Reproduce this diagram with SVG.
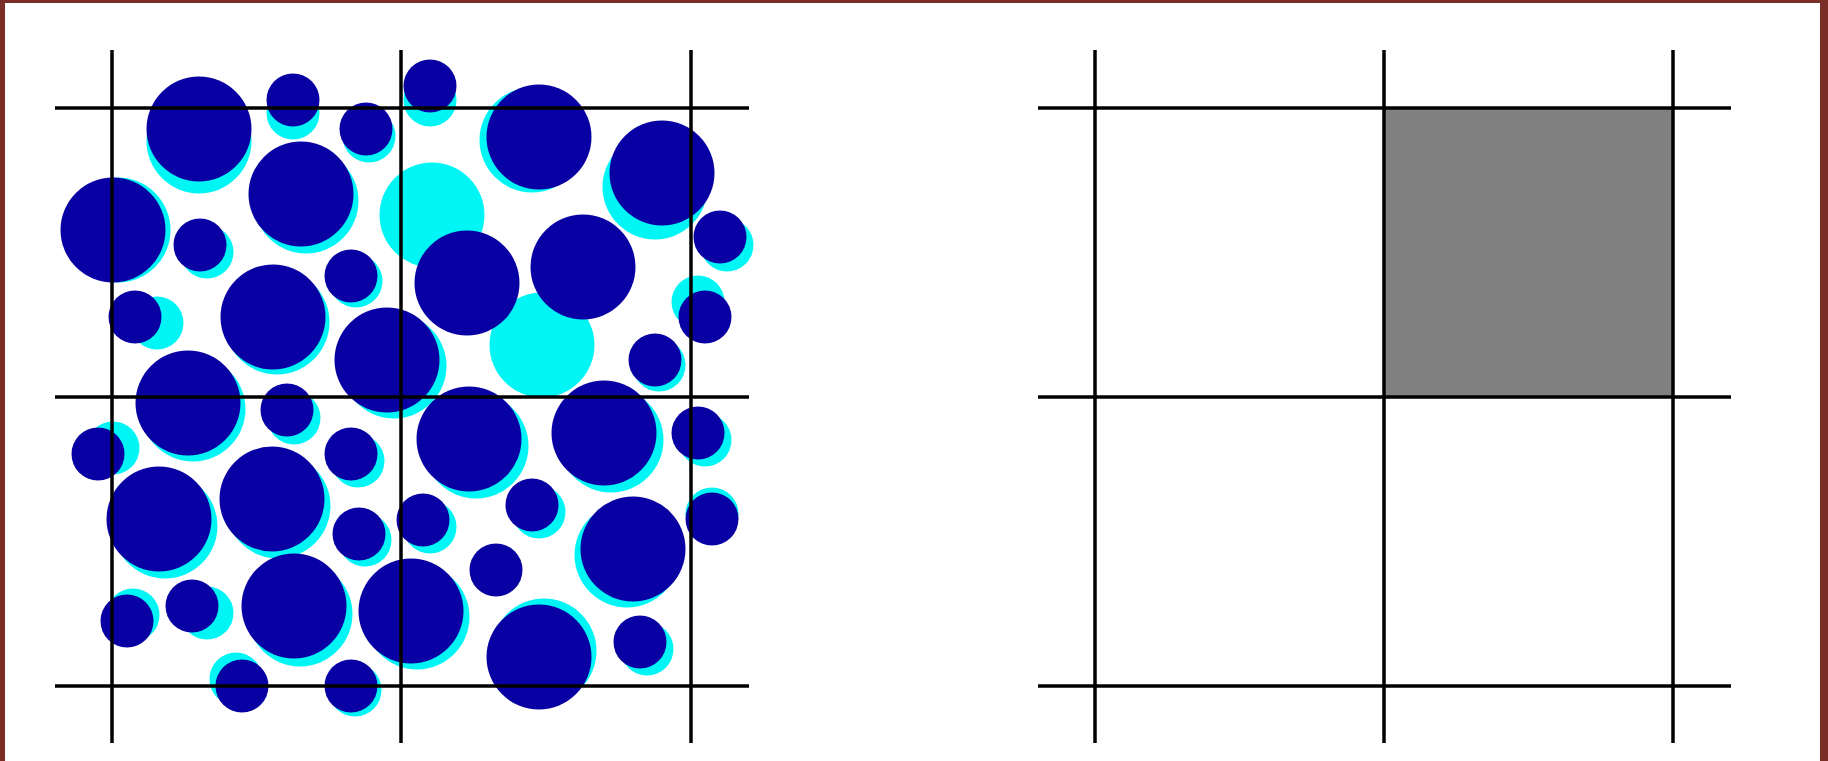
<svg xmlns="http://www.w3.org/2000/svg" width="1828" height="761" viewBox="0 0 1828 761">
<style>
.c{fill:#00F5F5}
.d{fill:#0800A2}
.g{stroke:#000;stroke-width:3.5;fill:none}
.b{fill:#7B2D27}
</style>
<rect width="1828" height="761" fill="#fff"/>
<g id="frame">
<rect class="b" x="0" y="0" width="1828" height="3"/>
<rect class="b" x="0" y="0" width="5" height="761"/>
<rect class="b" x="1820" y="0" width="8" height="761"/>
</g>
<g id="left-panel">
<g id="cyan">
<circle class="c" cx="199" cy="141" r="52.5"/>
<circle class="c" cx="306" cy="201" r="52.5"/>
<circle class="c" cx="118" cy="230" r="52.5"/>
<circle class="c" cx="277" cy="322" r="52.5"/>
<circle class="c" cx="394" cy="366" r="52.5"/>
<circle class="c" cx="193" cy="409" r="52.5"/>
<circle class="c" cx="532" cy="140" r="52.5"/>
<circle class="c" cx="655" cy="187" r="52.5"/>
<circle class="c" cx="165" cy="526" r="52.5"/>
<circle class="c" cx="278" cy="506" r="52.5"/>
<circle class="c" cx="300" cy="614" r="52.5"/>
<circle class="c" cx="417" cy="617" r="52.5"/>
<circle class="c" cx="476" cy="446" r="52.5"/>
<circle class="c" cx="611" cy="440" r="52.5"/>
<circle class="c" cx="627" cy="555" r="52.5"/>
<circle class="c" cx="544" cy="651" r="52.5"/>
<circle class="c" cx="432" cy="215" r="52.5"/>
<circle class="c" cx="542" cy="345" r="52.5"/>
<circle class="c" cx="293" cy="113" r="26.5"/>
<circle class="c" cx="369" cy="136" r="26.5"/>
<circle class="c" cx="207" cy="252" r="26.5"/>
<circle class="c" cx="356" cy="281" r="26.5"/>
<circle class="c" cx="157" cy="323" r="26.5"/>
<circle class="c" cx="294" cy="418" r="26.5"/>
<circle class="c" cx="430" cy="100" r="26.5"/>
<circle class="c" cx="727" cy="245" r="26.5"/>
<circle class="c" cx="698" cy="302" r="26.5"/>
<circle class="c" cx="659" cy="365" r="26.5"/>
<circle class="c" cx="113" cy="448" r="26.5"/>
<circle class="c" cx="358" cy="461" r="26.5"/>
<circle class="c" cx="365" cy="540" r="26.5"/>
<circle class="c" cx="133" cy="615" r="26.5"/>
<circle class="c" cx="207" cy="613" r="26.5"/>
<circle class="c" cx="236" cy="679" r="26.5"/>
<circle class="c" cx="355" cy="690" r="26.5"/>
<circle class="c" cx="705" cy="440" r="26.5"/>
<circle class="c" cx="430" cy="527" r="26.5"/>
<circle class="c" cx="539" cy="512" r="26.5"/>
<circle class="c" cx="712" cy="514" r="26.5"/>
<circle class="c" cx="647" cy="649" r="26.5"/>
</g>
<g id="blue">
<circle class="d" cx="199" cy="129" r="52.5"/>
<circle class="d" cx="301" cy="194" r="52.5"/>
<circle class="d" cx="113" cy="230" r="52.5"/>
<circle class="d" cx="273" cy="317" r="52.5"/>
<circle class="d" cx="387" cy="360" r="52.5"/>
<circle class="d" cx="188" cy="403" r="52.5"/>
<circle class="d" cx="539" cy="137" r="52.5"/>
<circle class="d" cx="662" cy="173" r="52.5"/>
<circle class="d" cx="467" cy="283" r="52.5"/>
<circle class="d" cx="583" cy="267" r="52.5"/>
<circle class="d" cx="159" cy="519" r="52.5"/>
<circle class="d" cx="272" cy="499" r="52.5"/>
<circle class="d" cx="294" cy="606" r="52.5"/>
<circle class="d" cx="411" cy="611" r="52.5"/>
<circle class="d" cx="469" cy="439" r="52.5"/>
<circle class="d" cx="604" cy="433" r="52.5"/>
<circle class="d" cx="633" cy="549" r="52.5"/>
<circle class="d" cx="539" cy="657" r="52.5"/>
<circle class="d" cx="293" cy="100" r="26.5"/>
<circle class="d" cx="366" cy="129" r="26.5"/>
<circle class="d" cx="200" cy="245" r="26.5"/>
<circle class="d" cx="351" cy="276" r="26.5"/>
<circle class="d" cx="135" cy="317" r="26.5"/>
<circle class="d" cx="287" cy="410" r="26.5"/>
<circle class="d" cx="430" cy="86" r="26.5"/>
<circle class="d" cx="720" cy="237" r="26.5"/>
<circle class="d" cx="705" cy="317" r="26.5"/>
<circle class="d" cx="655" cy="360" r="26.5"/>
<circle class="d" cx="98" cy="454" r="26.5"/>
<circle class="d" cx="351" cy="454" r="26.5"/>
<circle class="d" cx="359" cy="534" r="26.5"/>
<circle class="d" cx="127" cy="621" r="26.5"/>
<circle class="d" cx="192" cy="606" r="26.5"/>
<circle class="d" cx="242" cy="686" r="26.5"/>
<circle class="d" cx="351" cy="686" r="26.5"/>
<circle class="d" cx="698" cy="433" r="26.5"/>
<circle class="d" cx="423" cy="520" r="26.5"/>
<circle class="d" cx="532" cy="505" r="26.5"/>
<circle class="d" cx="712" cy="519" r="26.5"/>
<circle class="d" cx="496" cy="570" r="26.5"/>
<circle class="d" cx="640" cy="642" r="26.5"/>
</g>
<g id="grid-left" class="g">
<line x1="112" y1="50" x2="112" y2="743"/>
<line x1="401" y1="50" x2="401" y2="743"/>
<line x1="691" y1="50" x2="691" y2="743"/>
<line x1="55" y1="108" x2="749" y2="108"/>
<line x1="55" y1="397" x2="749" y2="397"/>
<line x1="55" y1="686" x2="749" y2="686"/>
</g>
</g>
<g id="right-panel">
<rect id="cell" x="1384" y="108" width="289" height="289" fill="#808080"/>
<g id="grid-right" class="g">
<line x1="1095" y1="50" x2="1095" y2="743"/>
<line x1="1384" y1="50" x2="1384" y2="743"/>
<line x1="1673" y1="50" x2="1673" y2="743"/>
<line x1="1038" y1="108" x2="1731" y2="108"/>
<line x1="1038" y1="397" x2="1731" y2="397"/>
<line x1="1038" y1="686" x2="1731" y2="686"/>
</g>
</g>
</svg>
